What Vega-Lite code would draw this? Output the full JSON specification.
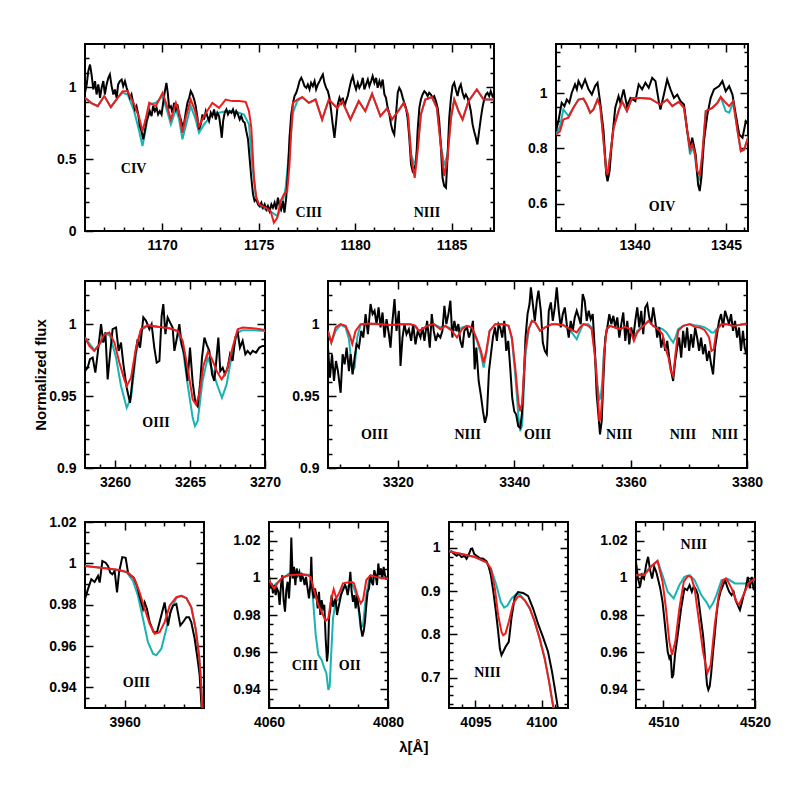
{
"padding": {"left": 32, "top": 42, "right": 5, "bottom": 5},
"background": "white",
"title": {"text": "λ[Å]", "orient": "bottom", "anchor": "middle", "offset": 10, "dx": 12, "font": "Liberation Sans", "fontSize": 15, "fontWeight": "bold", "color": "black"},
"config": {
 "view": {"stroke": "black", "strokeWidth": 2},
 "axis": {"domain": false, "grid": false, "tickColor": "black", "tickWidth": 1.5, "labelFont": "Liberation Sans", "labelFontWeight": "bold", "labelFontSize": 14, "labelColor": "black", "labelFlush": false, "titleFont": "Liberation Sans", "titleFontWeight": "bold", "titleFontSize": 15, "titleColor": "black", "zindex": 1}
},
"datasets": {
"Ab": [{"x":1166,"y":0.961},{"x":1166.09,"y":1.019},{"x":1166.17,"y":1.111},{"x":1166.26,"y":1.157},{"x":1166.34,"y":1.088},{"x":1166.43,"y":0.984},{"x":1166.52,"y":1.042},{"x":1166.6,"y":0.949},{"x":1166.69,"y":1.019},{"x":1166.78,"y":0.926},{"x":1166.86,"y":0.995},{"x":1166.95,"y":1.042},{"x":1167.03,"y":0.949},{"x":1167.12,"y":1.019},{"x":1167.21,"y":1.065},{"x":1167.29,"y":1.088},{"x":1167.38,"y":1.007},{"x":1167.47,"y":0.949},{"x":1167.55,"y":0.984},{"x":1167.64,"y":0.926},{"x":1167.72,"y":1.019},{"x":1167.81,"y":1.042},{"x":1167.9,"y":1.053},{"x":1167.98,"y":1.007},{"x":1168.07,"y":1.042},{"x":1168.16,"y":0.995},{"x":1168.24,"y":0.961},{"x":1168.33,"y":0.926},{"x":1168.41,"y":0.949},{"x":1168.5,"y":0.891},{"x":1168.59,"y":0.845},{"x":1168.67,"y":0.868},{"x":1168.76,"y":0.81},{"x":1168.84,"y":0.729},{"x":1168.93,"y":0.694},{"x":1169.02,"y":0.637},{"x":1169.1,"y":0.694},{"x":1169.19,"y":0.764},{"x":1169.28,"y":0.799},{"x":1169.36,"y":0.833},{"x":1169.45,"y":0.799},{"x":1169.53,"y":0.868},{"x":1169.62,"y":0.833},{"x":1169.71,"y":0.856},{"x":1169.79,"y":0.81},{"x":1169.88,"y":0.833},{"x":1169.97,"y":0.81},{"x":1170.05,"y":0.891},{"x":1170.14,"y":0.972},{"x":1170.22,"y":1.03},{"x":1170.29,"y":0.961},{"x":1170.36,"y":0.856},{"x":1170.45,"y":0.868},{"x":1170.53,"y":0.822},{"x":1170.62,"y":0.891},{"x":1170.71,"y":0.845},{"x":1170.79,"y":0.88},{"x":1170.88,"y":0.81},{"x":1170.97,"y":0.775},{"x":1171.05,"y":0.729},{"x":1171.14,"y":0.752},{"x":1171.22,"y":0.822},{"x":1171.31,"y":0.891},{"x":1171.4,"y":0.926},{"x":1171.48,"y":0.972},{"x":1171.57,"y":0.949},{"x":1171.66,"y":0.914},{"x":1171.74,"y":0.868},{"x":1171.83,"y":0.787},{"x":1171.91,"y":0.706},{"x":1172,"y":0.741},{"x":1172.09,"y":0.81},{"x":1172.17,"y":0.775},{"x":1172.26,"y":0.833},{"x":1172.34,"y":0.799},{"x":1172.43,"y":0.764},{"x":1172.52,"y":0.822},{"x":1172.6,"y":0.799},{"x":1172.69,"y":0.845},{"x":1172.78,"y":0.775},{"x":1172.86,"y":0.822},{"x":1172.95,"y":0.799},{"x":1173.03,"y":0.718},{"x":1173.09,"y":0.648},{"x":1173.16,"y":0.764},{"x":1173.24,"y":0.822},{"x":1173.33,"y":0.845},{"x":1173.41,"y":0.81},{"x":1173.5,"y":0.833},{"x":1173.59,"y":0.822},{"x":1173.67,"y":0.845},{"x":1173.76,"y":0.799},{"x":1173.84,"y":0.833},{"x":1173.93,"y":0.81},{"x":1174.02,"y":0.775},{"x":1174.1,"y":0.799},{"x":1174.19,"y":0.764},{"x":1174.28,"y":0.752},{"x":1174.36,"y":0.694},{"x":1174.45,"y":0.637},{"x":1174.53,"y":0.509},{"x":1174.62,"y":0.37},{"x":1174.71,"y":0.255},{"x":1174.79,"y":0.208},{"x":1174.88,"y":0.22},{"x":1174.97,"y":0.185},{"x":1175.05,"y":0.174},{"x":1175.14,"y":0.197},{"x":1175.22,"y":0.162},{"x":1175.31,"y":0.185},{"x":1175.4,"y":0.15},{"x":1175.48,"y":0.174},{"x":1175.57,"y":0.139},{"x":1175.66,"y":0.185},{"x":1175.74,"y":0.162},{"x":1175.83,"y":0.197},{"x":1175.91,"y":0.15},{"x":1176,"y":0.231},{"x":1176.09,"y":0.174},{"x":1176.17,"y":0.15},{"x":1176.26,"y":0.208},{"x":1176.34,"y":0.127},{"x":1176.43,"y":0.231},{"x":1176.52,"y":0.417},{"x":1176.6,"y":0.648},{"x":1176.69,"y":0.81},{"x":1176.78,"y":0.891},{"x":1176.86,"y":0.938},{"x":1176.95,"y":0.961},{"x":1177.03,"y":0.995},{"x":1177.12,"y":1.042},{"x":1177.21,"y":1.065},{"x":1177.29,"y":1.042},{"x":1177.38,"y":1.007},{"x":1177.47,"y":0.995},{"x":1177.55,"y":1.019},{"x":1177.64,"y":0.984},{"x":1177.72,"y":1.03},{"x":1177.81,"y":1.007},{"x":1177.9,"y":1.042},{"x":1177.98,"y":0.984},{"x":1178.07,"y":1.019},{"x":1178.16,"y":1.042},{"x":1178.24,"y":1.065},{"x":1178.33,"y":1.088},{"x":1178.41,"y":1.03},{"x":1178.5,"y":0.995},{"x":1178.59,"y":0.972},{"x":1178.67,"y":0.926},{"x":1178.76,"y":0.833},{"x":1178.84,"y":0.741},{"x":1178.93,"y":0.648},{"x":1179.02,"y":0.764},{"x":1179.1,"y":0.88},{"x":1179.19,"y":0.926},{"x":1179.28,"y":0.891},{"x":1179.36,"y":0.926},{"x":1179.45,"y":0.868},{"x":1179.53,"y":0.903},{"x":1179.62,"y":0.938},{"x":1179.71,"y":0.995},{"x":1179.79,"y":1.042},{"x":1179.88,"y":1.076},{"x":1179.97,"y":1.019},{"x":1180.05,"y":0.984},{"x":1180.14,"y":1.03},{"x":1180.22,"y":0.995},{"x":1180.31,"y":1.019},{"x":1180.4,"y":1.065},{"x":1180.48,"y":0.984},{"x":1180.57,"y":1.019},{"x":1180.66,"y":1.053},{"x":1180.74,"y":1.007},{"x":1180.83,"y":1.042},{"x":1180.91,"y":1.076},{"x":1181,"y":1.03},{"x":1181.09,"y":1.065},{"x":1181.17,"y":0.995},{"x":1181.26,"y":1.042},{"x":1181.34,"y":1.007},{"x":1181.43,"y":1.053},{"x":1181.52,"y":0.949},{"x":1181.6,"y":0.926},{"x":1181.69,"y":0.856},{"x":1181.78,"y":0.81},{"x":1181.86,"y":0.741},{"x":1181.95,"y":0.694},{"x":1182.03,"y":0.671},{"x":1182.12,"y":0.81},{"x":1182.21,"y":0.961},{"x":1182.29,"y":0.995},{"x":1182.38,"y":0.972},{"x":1182.47,"y":0.926},{"x":1182.55,"y":0.891},{"x":1182.64,"y":0.856},{"x":1182.72,"y":0.787},{"x":1182.81,"y":0.648},{"x":1182.9,"y":0.463},{"x":1182.98,"y":0.417},{"x":1183.07,"y":0.44},{"x":1183.16,"y":0.463},{"x":1183.24,"y":0.694},{"x":1183.33,"y":0.856},{"x":1183.41,"y":0.914},{"x":1183.5,"y":0.949},{"x":1183.59,"y":0.972},{"x":1183.67,"y":0.961},{"x":1183.76,"y":0.938},{"x":1183.84,"y":0.961},{"x":1183.93,"y":0.949},{"x":1184.02,"y":0.926},{"x":1184.1,"y":0.938},{"x":1184.19,"y":0.903},{"x":1184.28,"y":0.856},{"x":1184.36,"y":0.764},{"x":1184.45,"y":0.579},{"x":1184.53,"y":0.37},{"x":1184.62,"y":0.313},{"x":1184.71,"y":0.301},{"x":1184.79,"y":0.509},{"x":1184.88,"y":0.787},{"x":1184.97,"y":0.926},{"x":1185.05,"y":1.007},{"x":1185.14,"y":1.03},{"x":1185.22,"y":0.984},{"x":1185.31,"y":0.938},{"x":1185.4,"y":0.995},{"x":1185.48,"y":1.019},{"x":1185.57,"y":0.961},{"x":1185.66,"y":0.926},{"x":1185.74,"y":0.949},{"x":1185.83,"y":0.926},{"x":1185.91,"y":0.891},{"x":1186,"y":0.833},{"x":1186.09,"y":0.741},{"x":1186.17,"y":0.694},{"x":1186.26,"y":0.648},{"x":1186.34,"y":0.602},{"x":1186.43,"y":0.694},{"x":1186.52,"y":0.787},{"x":1186.6,"y":0.856},{"x":1186.69,"y":0.914},{"x":1186.78,"y":0.949},{"x":1186.86,"y":0.961},{"x":1186.95,"y":0.938},{"x":1187.03,"y":0.972},{"x":1187.12,"y":0.938},{"x":1187.17,"y":0.949}],
"Ar": [{"x":1166,"y":0.926},{"x":1166.31,"y":0.891},{"x":1166.66,"y":0.868},{"x":1167,"y":0.938},{"x":1167.34,"y":0.861},{"x":1167.69,"y":0.926},{"x":1167.95,"y":0.972},{"x":1168.21,"y":0.972},{"x":1168.55,"y":0.88},{"x":1168.81,"y":0.787},{"x":1168.98,"y":0.694},{"x":1169.16,"y":0.787},{"x":1169.33,"y":0.891},{"x":1169.67,"y":0.868},{"x":1170.02,"y":0.961},{"x":1170.28,"y":0.856},{"x":1170.45,"y":0.775},{"x":1170.71,"y":0.891},{"x":1170.88,"y":0.822},{"x":1171.05,"y":0.683},{"x":1171.22,"y":0.787},{"x":1171.48,"y":0.914},{"x":1171.71,"y":0.833},{"x":1171.91,"y":0.729},{"x":1172.17,"y":0.799},{"x":1172.6,"y":0.891},{"x":1172.95,"y":0.856},{"x":1173.29,"y":0.914},{"x":1173.64,"y":0.903},{"x":1173.98,"y":0.903},{"x":1174.33,"y":0.898},{"x":1174.5,"y":0.833},{"x":1174.62,"y":0.718},{"x":1174.76,"y":0.37},{"x":1174.88,"y":0.231},{"x":1175.02,"y":0.185},{"x":1175.36,"y":0.162},{"x":1175.62,"y":0.139},{"x":1175.79,"y":0.058},{"x":1175.97,"y":0.093},{"x":1176.14,"y":0.208},{"x":1176.31,"y":0.255},{"x":1176.48,"y":0.278},{"x":1176.6,"y":0.463},{"x":1176.69,"y":0.694},{"x":1176.78,"y":0.891},{"x":1177,"y":0.914},{"x":1177.26,"y":0.931},{"x":1177.6,"y":0.891},{"x":1177.95,"y":0.914},{"x":1178.29,"y":0.775},{"x":1178.64,"y":0.914},{"x":1179.07,"y":0.856},{"x":1179.33,"y":0.903},{"x":1179.76,"y":0.775},{"x":1180.19,"y":0.903},{"x":1180.53,"y":0.833},{"x":1180.88,"y":0.954},{"x":1181.31,"y":0.799},{"x":1181.66,"y":0.852},{"x":1181.91,"y":0.775},{"x":1182.26,"y":0.838},{"x":1182.52,"y":0.891},{"x":1182.74,"y":0.81},{"x":1182.91,"y":0.509},{"x":1183.09,"y":0.37},{"x":1183.26,"y":0.579},{"x":1183.41,"y":0.81},{"x":1183.64,"y":0.914},{"x":1183.98,"y":0.931},{"x":1184.24,"y":0.856},{"x":1184.45,"y":0.579},{"x":1184.62,"y":0.382},{"x":1184.79,"y":0.509},{"x":1184.97,"y":0.787},{"x":1185.14,"y":0.914},{"x":1185.36,"y":0.833},{"x":1185.57,"y":0.775},{"x":1185.88,"y":0.903},{"x":1186.31,"y":0.984},{"x":1186.66,"y":0.914},{"x":1187.17,"y":0.914}],
"Ac": [{"x":1166,"y":0.926},{"x":1166.31,"y":0.891},{"x":1166.66,"y":0.868},{"x":1167,"y":0.938},{"x":1167.34,"y":0.861},{"x":1167.69,"y":0.926},{"x":1167.95,"y":0.961},{"x":1168.21,"y":0.949},{"x":1168.55,"y":0.833},{"x":1168.81,"y":0.694},{"x":1168.98,"y":0.59},{"x":1169.16,"y":0.718},{"x":1169.36,"y":0.88},{"x":1169.67,"y":0.891},{"x":1170.02,"y":0.938},{"x":1170.28,"y":0.822},{"x":1170.45,"y":0.741},{"x":1170.71,"y":0.845},{"x":1170.88,"y":0.775},{"x":1171.05,"y":0.637},{"x":1171.22,"y":0.729},{"x":1171.48,"y":0.868},{"x":1171.71,"y":0.787},{"x":1171.91,"y":0.683},{"x":1172.17,"y":0.741},{"x":1172.6,"y":0.81},{"x":1172.95,"y":0.822},{"x":1173.29,"y":0.833},{"x":1173.64,"y":0.833},{"x":1173.98,"y":0.822},{"x":1174.24,"y":0.81},{"x":1174.5,"y":0.741},{"x":1174.67,"y":0.463},{"x":1174.84,"y":0.255},{"x":1175.02,"y":0.174},{"x":1175.36,"y":0.15},{"x":1175.71,"y":0.127},{"x":1175.97,"y":0.104},{"x":1176.19,"y":0.162},{"x":1176.4,"y":0.301},{"x":1176.6,"y":0.579},{"x":1176.78,"y":0.822},{"x":1177,"y":0.903},{"x":1177.26,"y":0.931},{"x":1177.6,"y":0.891},{"x":1177.95,"y":0.914},{"x":1178.29,"y":0.775},{"x":1178.64,"y":0.914},{"x":1179.07,"y":0.856},{"x":1179.33,"y":0.903},{"x":1179.76,"y":0.775},{"x":1180.19,"y":0.903},{"x":1180.53,"y":0.833},{"x":1180.88,"y":0.954},{"x":1181.31,"y":0.799},{"x":1181.66,"y":0.852},{"x":1181.91,"y":0.775},{"x":1182.26,"y":0.838},{"x":1182.52,"y":0.891},{"x":1182.74,"y":0.81},{"x":1182.91,"y":0.532},{"x":1183.09,"y":0.451},{"x":1183.26,"y":0.602},{"x":1183.41,"y":0.81},{"x":1183.64,"y":0.914},{"x":1183.98,"y":0.931},{"x":1184.24,"y":0.856},{"x":1184.45,"y":0.602},{"x":1184.62,"y":0.451},{"x":1184.79,"y":0.532},{"x":1184.97,"y":0.787},{"x":1185.14,"y":0.914},{"x":1185.36,"y":0.833},{"x":1185.57,"y":0.775},{"x":1185.88,"y":0.903},{"x":1186.31,"y":0.984},{"x":1186.66,"y":0.914},{"x":1187.17,"y":0.914}],
"Bb": [{"x":1335.7,"y":0.863},{"x":1335.83,"y":0.899},{"x":1336.01,"y":0.966},{"x":1336.16,"y":0.954},{"x":1336.29,"y":0.978},{"x":1336.43,"y":0.966},{"x":1336.56,"y":1.002},{"x":1336.74,"y":1.033},{"x":1336.84,"y":1.015},{"x":1336.93,"y":1.045},{"x":1337.11,"y":1.021},{"x":1337.29,"y":1.051},{"x":1337.48,"y":1.015},{"x":1337.66,"y":0.996},{"x":1337.84,"y":1.027},{"x":1337.97,"y":1.039},{"x":1338.12,"y":0.966},{"x":1338.3,"y":0.863},{"x":1338.45,"y":0.705},{"x":1338.52,"y":0.681},{"x":1338.63,"y":0.718},{"x":1338.76,"y":0.827},{"x":1338.94,"y":0.948},{"x":1339.12,"y":0.99},{"x":1339.22,"y":0.966},{"x":1339.4,"y":1.015},{"x":1339.58,"y":0.954},{"x":1339.77,"y":0.984},{"x":1340.04,"y":0.972},{"x":1340.22,"y":1.033},{"x":1340.41,"y":1.015},{"x":1340.59,"y":1.039},{"x":1340.77,"y":1.021},{"x":1340.96,"y":1.057},{"x":1341.14,"y":1.045},{"x":1341.32,"y":0.972},{"x":1341.41,"y":0.942},{"x":1341.6,"y":0.996},{"x":1341.78,"y":1.051},{"x":1341.96,"y":1.015},{"x":1342.15,"y":0.984},{"x":1342.33,"y":0.996},{"x":1342.51,"y":0.972},{"x":1342.7,"y":0.96},{"x":1342.88,"y":0.863},{"x":1343.03,"y":0.802},{"x":1343.15,"y":0.839},{"x":1343.34,"y":0.778},{"x":1343.47,"y":0.669},{"x":1343.56,"y":0.645},{"x":1343.65,"y":0.693},{"x":1343.79,"y":0.827},{"x":1343.98,"y":0.924},{"x":1344.16,"y":0.984},{"x":1344.34,"y":1.015},{"x":1344.62,"y":1.027},{"x":1344.8,"y":1.045},{"x":1344.98,"y":1.008},{"x":1345.17,"y":1.027},{"x":1345.35,"y":0.996},{"x":1345.53,"y":0.924},{"x":1345.72,"y":0.851},{"x":1345.9,"y":0.839},{"x":1346.08,"y":0.899},{"x":1346.23,"y":0.887}],
"Br": [{"x":1335.7,"y":0.851},{"x":1335.92,"y":0.863},{"x":1336.1,"y":0.905},{"x":1336.38,"y":0.912},{"x":1336.65,"y":0.948},{"x":1336.93,"y":0.978},{"x":1337.2,"y":0.981},{"x":1337.38,"y":0.96},{"x":1337.57,"y":0.93},{"x":1337.75,"y":0.942},{"x":1337.97,"y":0.978},{"x":1338.12,"y":0.954},{"x":1338.3,"y":0.827},{"x":1338.45,"y":0.718},{"x":1338.52,"y":0.705},{"x":1338.67,"y":0.778},{"x":1338.85,"y":0.875},{"x":1339.12,"y":0.936},{"x":1339.31,"y":0.972},{"x":1339.58,"y":0.936},{"x":1339.86,"y":0.984},{"x":1340.32,"y":0.984},{"x":1340.86,"y":0.981},{"x":1341.14,"y":0.97},{"x":1341.41,"y":0.96},{"x":1341.78,"y":0.978},{"x":1342.06,"y":0.954},{"x":1342.42,"y":0.97},{"x":1342.7,"y":0.948},{"x":1342.88,"y":0.863},{"x":1343.03,"y":0.796},{"x":1343.15,"y":0.815},{"x":1343.28,"y":0.79},{"x":1343.43,"y":0.718},{"x":1343.56,"y":0.705},{"x":1343.7,"y":0.778},{"x":1343.89,"y":0.936},{"x":1344.25,"y":0.948},{"x":1344.53,"y":0.966},{"x":1344.71,"y":0.987},{"x":1344.98,"y":0.966},{"x":1345.17,"y":0.954},{"x":1345.39,"y":0.972},{"x":1345.63,"y":0.863},{"x":1345.81,"y":0.79},{"x":1345.99,"y":0.796},{"x":1346.23,"y":0.845}],
"Bc": [{"x":1335.7,"y":0.851},{"x":1335.92,"y":0.88},{"x":1336.1,"y":0.942},{"x":1336.38,"y":0.918},{"x":1336.65,"y":0.948},{"x":1336.93,"y":0.978},{"x":1337.2,"y":0.981},{"x":1337.38,"y":0.96},{"x":1337.57,"y":0.93},{"x":1337.75,"y":0.942},{"x":1337.97,"y":0.978},{"x":1338.12,"y":0.954},{"x":1338.3,"y":0.827},{"x":1338.45,"y":0.712},{"x":1338.52,"y":0.7},{"x":1338.67,"y":0.778},{"x":1338.85,"y":0.875},{"x":1339.12,"y":0.936},{"x":1339.31,"y":0.972},{"x":1339.58,"y":0.936},{"x":1339.86,"y":0.984},{"x":1340.32,"y":0.984},{"x":1340.86,"y":0.981},{"x":1341.14,"y":0.97},{"x":1341.41,"y":0.96},{"x":1341.78,"y":0.978},{"x":1342.06,"y":0.954},{"x":1342.42,"y":0.97},{"x":1342.7,"y":0.948},{"x":1342.88,"y":0.86},{"x":1343.03,"y":0.778},{"x":1343.15,"y":0.805},{"x":1343.28,"y":0.78},{"x":1343.43,"y":0.7},{"x":1343.56,"y":0.687},{"x":1343.7,"y":0.77},{"x":1343.89,"y":0.936},{"x":1344.25,"y":0.948},{"x":1344.53,"y":0.966},{"x":1344.71,"y":0.987},{"x":1344.98,"y":0.936},{"x":1345.17,"y":0.93},{"x":1345.39,"y":0.966},{"x":1345.63,"y":0.863},{"x":1345.81,"y":0.79},{"x":1345.99,"y":0.796},{"x":1346.23,"y":0.845}],
"Cb": [{"x":3258,"y":0.9674},{"x":3258.18,"y":0.9698},{"x":3258.33,"y":0.9756},{"x":3258.51,"y":0.9767},{"x":3258.69,"y":0.9663},{"x":3258.84,"y":0.9791},{"x":3259.07,"y":1.0},{"x":3259.22,"y":0.9872},{"x":3259.36,"y":0.9942},{"x":3259.51,"y":0.9616},{"x":3259.67,"y":0.9791},{"x":3259.84,"y":0.9965},{"x":3260.07,"y":0.9977},{"x":3260.24,"y":0.9814},{"x":3260.4,"y":0.9872},{"x":3260.56,"y":0.9721},{"x":3260.78,"y":0.9558},{"x":3261,"y":0.9453},{"x":3261.18,"y":0.9628},{"x":3261.36,"y":0.9791},{"x":3261.51,"y":0.9895},{"x":3261.67,"y":0.9837},{"x":3261.89,"y":1.0047},{"x":3262.07,"y":1.0023},{"x":3262.29,"y":0.9965},{"x":3262.44,"y":1.0},{"x":3262.62,"y":0.9837},{"x":3262.78,"y":0.9733},{"x":3262.96,"y":0.9744},{"x":3263.11,"y":1.0058},{"x":3263.22,"y":1.014},{"x":3263.36,"y":0.993},{"x":3263.51,"y":1.0047},{"x":3263.67,"y":1.0012},{"x":3263.84,"y":0.9977},{"x":3263.96,"y":0.9814},{"x":3264.11,"y":0.9895},{"x":3264.29,"y":1.0},{"x":3264.44,"y":0.986},{"x":3264.62,"y":0.9791},{"x":3264.84,"y":0.9605},{"x":3265,"y":0.9837},{"x":3265.18,"y":0.9593},{"x":3265.36,"y":0.9453},{"x":3265.51,"y":0.943},{"x":3265.67,"y":0.9581},{"x":3265.8,"y":0.9767},{"x":3265.96,"y":0.9907},{"x":3266.11,"y":0.986},{"x":3266.29,"y":0.9814},{"x":3266.47,"y":0.9651},{"x":3266.62,"y":0.9605},{"x":3266.73,"y":0.9721},{"x":3266.89,"y":0.9907},{"x":3267.02,"y":0.9674},{"x":3267.18,"y":0.9698},{"x":3267.33,"y":0.9651},{"x":3267.51,"y":0.9698},{"x":3267.67,"y":0.9791},{"x":3267.84,"y":0.9744},{"x":3268.02,"y":0.9907},{"x":3268.18,"y":0.9942},{"x":3268.33,"y":0.9837},{"x":3268.51,"y":0.9884},{"x":3268.69,"y":0.9791},{"x":3268.84,"y":0.9814},{"x":3269.02,"y":0.9791},{"x":3269.18,"y":0.9814},{"x":3269.4,"y":0.9802},{"x":3269.62,"y":0.9837},{"x":3269.84,"y":0.9849},{"x":3270,"y":0.9849}],
"Cr": [{"x":3258,"y":0.9907},{"x":3258.29,"y":0.9849},{"x":3258.62,"y":0.9814},{"x":3258.96,"y":0.986},{"x":3259.29,"y":0.993},{"x":3259.62,"y":0.9942},{"x":3259.96,"y":0.9872},{"x":3260.29,"y":0.9733},{"x":3260.62,"y":0.9616},{"x":3260.78,"y":0.957},{"x":3261.07,"y":0.9628},{"x":3261.4,"y":0.9837},{"x":3261.73,"y":0.9965},{"x":3262.18,"y":0.9993},{"x":3262.96,"y":0.9981},{"x":3263.62,"y":0.9972},{"x":3264.18,"y":0.9953},{"x":3264.51,"y":0.9884},{"x":3264.84,"y":0.9698},{"x":3265.18,"y":0.9477},{"x":3265.4,"y":0.9442},{"x":3265.62,"y":0.9512},{"x":3265.89,"y":0.9709},{"x":3266.2,"y":0.9809},{"x":3266.47,"y":0.9756},{"x":3266.78,"y":0.9674},{"x":3267.11,"y":0.9616},{"x":3267.44,"y":0.9674},{"x":3267.84,"y":0.9837},{"x":3268.18,"y":0.9965},{"x":3268.51,"y":0.9977},{"x":3269.18,"y":0.9972},{"x":3270,"y":0.996}],
"Cc": [{"x":3258,"y":0.9907},{"x":3258.62,"y":0.9819},{"x":3259.07,"y":0.9872},{"x":3259.36,"y":0.9937},{"x":3259.67,"y":0.9919},{"x":3260.07,"y":0.9767},{"x":3260.4,"y":0.957},{"x":3260.78,"y":0.9419},{"x":3261.07,"y":0.9488},{"x":3261.4,"y":0.9791},{"x":3261.73,"y":0.9958},{"x":3262.18,"y":0.9988},{"x":3262.96,"y":0.9981},{"x":3263.62,"y":0.9972},{"x":3264.18,"y":0.9949},{"x":3264.51,"y":0.9837},{"x":3264.84,"y":0.9581},{"x":3265.18,"y":0.9349},{"x":3265.33,"y":0.9291},{"x":3265.51,"y":0.9326},{"x":3265.84,"y":0.9605},{"x":3266.18,"y":0.9767},{"x":3266.44,"y":0.9698},{"x":3266.84,"y":0.957},{"x":3267.13,"y":0.9488},{"x":3267.44,"y":0.9581},{"x":3267.84,"y":0.9814},{"x":3268.18,"y":0.9942},{"x":3268.51,"y":0.9958},{"x":3269.18,"y":0.9958},{"x":3270,"y":0.9953}],
"Db": [{"x":3308,"y":0.9837},{"x":3308.34,"y":0.9628},{"x":3308.69,"y":0.9791},{"x":3309.03,"y":0.9605},{"x":3309.37,"y":0.9744},{"x":3309.71,"y":0.9674},{"x":3310.17,"y":0.9523},{"x":3310.51,"y":0.9791},{"x":3310.86,"y":0.9721},{"x":3311.2,"y":0.9837},{"x":3311.6,"y":0.9674},{"x":3311.89,"y":0.9791},{"x":3312.23,"y":0.9651},{"x":3312.57,"y":0.9767},{"x":3312.91,"y":0.986},{"x":3313.31,"y":0.9837},{"x":3313.71,"y":0.9953},{"x":3314.06,"y":0.9907},{"x":3314.46,"y":1.007},{"x":3314.86,"y":0.993},{"x":3315.31,"y":1.014},{"x":3315.66,"y":1.007},{"x":3316,"y":1.0093},{"x":3316.34,"y":1.0},{"x":3316.69,"y":1.0116},{"x":3317.03,"y":0.9977},{"x":3317.37,"y":1.0081},{"x":3317.71,"y":0.9907},{"x":3318.06,"y":1.0035},{"x":3318.46,"y":0.993},{"x":3318.74,"y":0.9837},{"x":3319.03,"y":1.0},{"x":3319.43,"y":1.0174},{"x":3319.77,"y":0.9953},{"x":3320.17,"y":1.0093},{"x":3320.46,"y":0.9709},{"x":3320.8,"y":0.9907},{"x":3321.14,"y":1.0},{"x":3321.49,"y":0.993},{"x":3321.89,"y":0.9965},{"x":3322.29,"y":0.9884},{"x":3322.63,"y":1.0},{"x":3323.03,"y":0.986},{"x":3323.43,"y":0.9953},{"x":3323.89,"y":0.9907},{"x":3324.23,"y":0.9977},{"x":3324.57,"y":0.9884},{"x":3325.03,"y":1.0023},{"x":3325.49,"y":0.9837},{"x":3325.83,"y":1.007},{"x":3326.17,"y":0.9953},{"x":3326.51,"y":0.9884},{"x":3326.86,"y":0.993},{"x":3327.31,"y":0.9907},{"x":3327.66,"y":0.9953},{"x":3328,"y":1.0128},{"x":3328.34,"y":1.0},{"x":3328.69,"y":1.007},{"x":3329.03,"y":1.0163},{"x":3329.37,"y":0.9907},{"x":3329.71,"y":1.0023},{"x":3330.06,"y":0.9953},{"x":3330.4,"y":1.0},{"x":3330.74,"y":0.9884},{"x":3331.09,"y":0.9837},{"x":3331.43,"y":0.9953},{"x":3331.89,"y":0.9977},{"x":3332.23,"y":0.9907},{"x":3332.57,"y":0.9953},{"x":3332.91,"y":1.0023},{"x":3333.2,"y":0.9686},{"x":3333.49,"y":0.9837},{"x":3333.89,"y":0.9605},{"x":3334.29,"y":0.95},{"x":3334.63,"y":0.9395},{"x":3334.97,"y":0.9314},{"x":3335.31,"y":0.9372},{"x":3335.66,"y":0.9674},{"x":3336,"y":0.9791},{"x":3336.34,"y":0.9907},{"x":3336.69,"y":0.9977},{"x":3337.03,"y":0.9884},{"x":3337.31,"y":1.0},{"x":3337.6,"y":0.9977},{"x":3337.94,"y":0.9907},{"x":3338.29,"y":1.0023},{"x":3338.63,"y":0.9814},{"x":3338.97,"y":0.9884},{"x":3339.31,"y":0.9698},{"x":3339.66,"y":0.9488},{"x":3340,"y":0.9395},{"x":3340.34,"y":0.9372},{"x":3340.69,"y":0.9291},{"x":3341.03,"y":0.9279},{"x":3341.31,"y":0.9372},{"x":3341.6,"y":0.9581},{"x":3341.94,"y":0.9907},{"x":3342.29,"y":1.007},{"x":3342.63,"y":1.014},{"x":3342.86,"y":1.0256},{"x":3343.2,"y":1.014},{"x":3343.54,"y":1.0023},{"x":3343.89,"y":1.0163},{"x":3344.17,"y":1.0233},{"x":3344.57,"y":1.0093},{"x":3344.91,"y":0.9872},{"x":3345.26,"y":0.9814},{"x":3345.6,"y":0.9791},{"x":3345.94,"y":1.0093},{"x":3346.29,"y":1.0151},{"x":3346.63,"y":1.0023},{"x":3346.97,"y":1.0116},{"x":3347.31,"y":1.0256},{"x":3347.66,"y":1.0093},{"x":3348,"y":0.9977},{"x":3348.34,"y":1.007},{"x":3348.69,"y":1.0116},{"x":3349.03,"y":1.0},{"x":3349.37,"y":0.9907},{"x":3349.71,"y":1.0023},{"x":3350.06,"y":0.9953},{"x":3350.4,"y":1.0047},{"x":3350.74,"y":1.0093},{"x":3351.09,"y":1.0047},{"x":3351.43,"y":1.0},{"x":3351.77,"y":1.0209},{"x":3352.11,"y":1.0163},{"x":3352.46,"y":1.0023},{"x":3352.8,"y":1.0093},{"x":3353.14,"y":1.0035},{"x":3353.49,"y":1.007},{"x":3353.83,"y":0.9837},{"x":3354.17,"y":0.9512},{"x":3354.46,"y":0.9372},{"x":3354.74,"y":0.9233},{"x":3355.03,"y":0.9326},{"x":3355.31,"y":0.9605},{"x":3355.66,"y":0.9907},{"x":3356,"y":0.9977},{"x":3356.34,"y":1.007},{"x":3356.69,"y":1.0},{"x":3357.03,"y":1.0058},{"x":3357.37,"y":0.9977},{"x":3357.71,"y":1.0047},{"x":3358.06,"y":0.9907},{"x":3358.4,"y":1.0},{"x":3358.74,"y":1.0081},{"x":3359.09,"y":0.9884},{"x":3359.43,"y":1.0023},{"x":3359.77,"y":0.986},{"x":3360.11,"y":0.9977},{"x":3360.46,"y":0.9907},{"x":3360.8,"y":1.0023},{"x":3361.14,"y":1.0116},{"x":3361.49,"y":0.9977},{"x":3361.83,"y":1.0093},{"x":3362.17,"y":0.993},{"x":3362.51,"y":1.0116},{"x":3362.86,"y":1.014},{"x":3363.2,"y":1.0047},{"x":3363.54,"y":1.0},{"x":3363.89,"y":1.0116},{"x":3364.23,"y":1.0023},{"x":3364.57,"y":0.9907},{"x":3364.91,"y":0.9977},{"x":3365.26,"y":0.9837},{"x":3365.6,"y":0.9907},{"x":3365.94,"y":0.9814},{"x":3366.29,"y":0.9884},{"x":3366.63,"y":0.9767},{"x":3366.97,"y":0.9674},{"x":3367.31,"y":0.9605},{"x":3367.66,"y":0.9744},{"x":3368,"y":0.9837},{"x":3368.34,"y":0.9907},{"x":3368.69,"y":0.9767},{"x":3369.03,"y":0.9953},{"x":3369.37,"y":0.9837},{"x":3369.71,"y":0.9977},{"x":3370.06,"y":0.9814},{"x":3370.4,"y":0.993},{"x":3370.74,"y":0.9837},{"x":3371.09,"y":0.9977},{"x":3371.43,"y":0.9907},{"x":3371.77,"y":0.9814},{"x":3372.11,"y":0.9907},{"x":3372.46,"y":0.9791},{"x":3372.8,"y":0.986},{"x":3373.14,"y":0.9744},{"x":3373.49,"y":0.9814},{"x":3373.83,"y":0.9721},{"x":3374.17,"y":0.9651},{"x":3374.51,"y":0.9837},{"x":3374.86,"y":0.993},{"x":3375.2,"y":1.0023},{"x":3375.54,"y":1.007},{"x":3375.89,"y":0.9977},{"x":3376.23,"y":1.0093},{"x":3376.57,"y":1.0047},{"x":3376.91,"y":1.0},{"x":3377.26,"y":1.007},{"x":3377.6,"y":0.9953},{"x":3377.94,"y":1.0023},{"x":3378.29,"y":0.9907},{"x":3378.63,"y":0.9977},{"x":3378.97,"y":0.9814},{"x":3379.31,"y":0.9953},{"x":3379.6,"y":0.9837},{"x":3379.89,"y":0.9791}],
"Dr": [{"x":3308,"y":0.9953},{"x":3308.57,"y":0.9872},{"x":3309.31,"y":0.9977},{"x":3310.17,"y":1.0},{"x":3311.03,"y":0.9988},{"x":3311.77,"y":0.9919},{"x":3312.17,"y":0.9863},{"x":3312.74,"y":0.9953},{"x":3313.6,"y":1.0},{"x":3315.31,"y":1.0005},{"x":3317.03,"y":1.0},{"x":3318.74,"y":0.9995},{"x":3320.46,"y":1.0},{"x":3322.17,"y":1.0},{"x":3323.03,"y":0.9988},{"x":3323.6,"y":0.9953},{"x":3324.17,"y":0.9965},{"x":3325.03,"y":0.9988},{"x":3326.17,"y":1.0},{"x":3327.31,"y":0.9965},{"x":3328.17,"y":0.9988},{"x":3329.31,"y":0.9953},{"x":3330.17,"y":0.9907},{"x":3331.03,"y":0.9965},{"x":3331.89,"y":0.9988},{"x":3332.74,"y":0.9977},{"x":3333.6,"y":0.9895},{"x":3334.29,"y":0.9814},{"x":3334.74,"y":0.9733},{"x":3335.2,"y":0.9814},{"x":3335.77,"y":0.9953},{"x":3336.74,"y":1.0},{"x":3338.17,"y":1.0},{"x":3339.03,"y":0.9988},{"x":3339.6,"y":0.9907},{"x":3340.17,"y":0.9698},{"x":3340.74,"y":0.9453},{"x":3341.03,"y":0.9395},{"x":3341.37,"y":0.9453},{"x":3341.89,"y":0.9814},{"x":3342.46,"y":0.9965},{"x":3343.03,"y":1.0023},{"x":3343.6,"y":1.0012},{"x":3344.46,"y":0.9953},{"x":3345.31,"y":0.9977},{"x":3346.46,"y":1.0},{"x":3347.31,"y":1.0},{"x":3348.46,"y":0.9993},{"x":3349.6,"y":0.9965},{"x":3350.74,"y":0.9942},{"x":3351.31,"y":0.9977},{"x":3351.89,"y":1.0},{"x":3352.74,"y":0.9988},{"x":3353.31,"y":0.9965},{"x":3353.89,"y":0.9767},{"x":3354.29,"y":0.9558},{"x":3354.63,"y":0.9326},{"x":3354.86,"y":0.9349},{"x":3355.14,"y":0.9512},{"x":3355.43,"y":0.9791},{"x":3355.89,"y":0.9965},{"x":3356.46,"y":0.9988},{"x":3357.31,"y":0.9977},{"x":3358.17,"y":0.9965},{"x":3359.03,"y":0.9981},{"x":3359.89,"y":0.9965},{"x":3360.57,"y":0.9884},{"x":3361.14,"y":0.9942},{"x":3361.89,"y":0.9977},{"x":3362.51,"y":1.0},{"x":3363.09,"y":1.0023},{"x":3363.89,"y":0.9988},{"x":3364.74,"y":0.9965},{"x":3365.49,"y":0.993},{"x":3365.94,"y":0.9837},{"x":3366.51,"y":0.9767},{"x":3366.91,"y":0.9674},{"x":3367.31,"y":0.964},{"x":3367.71,"y":0.9791},{"x":3368.17,"y":0.9953},{"x":3369.03,"y":0.9988},{"x":3370.17,"y":1.0},{"x":3371.03,"y":0.9981},{"x":3371.89,"y":0.9977},{"x":3372.74,"y":0.9958},{"x":3373.49,"y":0.9907},{"x":3373.89,"y":0.9814},{"x":3374.29,"y":0.9826},{"x":3374.74,"y":0.9953},{"x":3375.6,"y":1.0},{"x":3376.46,"y":1.0},{"x":3377.6,"y":0.9988},{"x":3378.74,"y":0.9995},{"x":3379.89,"y":1.0005}],
"Dc": [{"x":3308,"y":0.9953},{"x":3308.57,"y":0.9872},{"x":3309.31,"y":0.9953},{"x":3310.17,"y":0.9995},{"x":3311.03,"y":0.9977},{"x":3311.6,"y":0.9895},{"x":3312.17,"y":0.9674},{"x":3312.57,"y":0.9698},{"x":3313.03,"y":0.9907},{"x":3313.6,"y":0.9995},{"x":3315.31,"y":1.0},{"x":3317.03,"y":1.0},{"x":3318.74,"y":0.9995},{"x":3320.46,"y":1.0},{"x":3322.17,"y":1.0},{"x":3323.03,"y":0.9981},{"x":3323.6,"y":0.9953},{"x":3324.17,"y":0.9958},{"x":3325.03,"y":0.9988},{"x":3326.17,"y":1.0},{"x":3327.31,"y":0.9977},{"x":3328.17,"y":0.9988},{"x":3329.31,"y":0.9965},{"x":3330.17,"y":0.9953},{"x":3331.03,"y":0.9977},{"x":3331.89,"y":0.9988},{"x":3332.74,"y":0.9977},{"x":3333.6,"y":0.9884},{"x":3334.29,"y":0.9791},{"x":3334.74,"y":0.9698},{"x":3335.2,"y":0.9791},{"x":3335.77,"y":0.9953},{"x":3336.74,"y":1.0},{"x":3338.17,"y":1.0},{"x":3339.03,"y":0.9988},{"x":3339.6,"y":0.9895},{"x":3340.17,"y":0.9651},{"x":3340.74,"y":0.9349},{"x":3341.03,"y":0.9256},{"x":3341.37,"y":0.9302},{"x":3341.89,"y":0.9767},{"x":3342.46,"y":0.9958},{"x":3343.03,"y":1.0023},{"x":3343.6,"y":1.0012},{"x":3344.46,"y":0.9953},{"x":3345.31,"y":0.9977},{"x":3346.46,"y":1.0},{"x":3347.31,"y":1.0},{"x":3348.46,"y":0.9993},{"x":3349.6,"y":0.9958},{"x":3350.74,"y":0.9895},{"x":3351.31,"y":0.9953},{"x":3351.89,"y":1.0},{"x":3352.74,"y":1.0},{"x":3353.31,"y":0.9977},{"x":3353.89,"y":0.9791},{"x":3354.29,"y":0.9581},{"x":3354.63,"y":0.9477},{"x":3354.86,"y":0.9488},{"x":3355.14,"y":0.9605},{"x":3355.43,"y":0.9814},{"x":3355.89,"y":0.9965},{"x":3356.46,"y":0.9988},{"x":3357.31,"y":0.9977},{"x":3358.17,"y":0.9965},{"x":3359.03,"y":0.9981},{"x":3359.89,"y":0.9965},{"x":3360.57,"y":0.9907},{"x":3361.14,"y":0.9953},{"x":3361.89,"y":0.9977},{"x":3362.51,"y":1.0},{"x":3363.09,"y":1.0023},{"x":3363.89,"y":0.9988},{"x":3364.74,"y":0.9977},{"x":3365.49,"y":0.9965},{"x":3366.17,"y":0.9942},{"x":3366.91,"y":0.9895},{"x":3367.31,"y":0.9872},{"x":3367.71,"y":0.9907},{"x":3368.17,"y":0.9965},{"x":3369.03,"y":0.9988},{"x":3370.17,"y":1.0},{"x":3371.03,"y":0.9993},{"x":3371.89,"y":0.9988},{"x":3372.74,"y":0.9977},{"x":3373.49,"y":0.9958},{"x":3373.89,"y":0.9942},{"x":3374.29,"y":0.9942},{"x":3374.74,"y":0.9965},{"x":3375.6,"y":1.0},{"x":3376.46,"y":1.0},{"x":3377.6,"y":0.9988},{"x":3378.74,"y":0.9995},{"x":3379.89,"y":1.0}],
"Eb": [{"x":3956,"y":0.9827},{"x":3956.3,"y":0.9875},{"x":3956.64,"y":0.9923},{"x":3956.97,"y":0.991},{"x":3957.31,"y":0.9939},{"x":3957.48,"y":0.9907},{"x":3957.75,"y":1.0011},{"x":3958.08,"y":1.0003},{"x":3958.32,"y":0.9987},{"x":3958.55,"y":0.9955},{"x":3958.76,"y":0.9947},{"x":3958.99,"y":0.9963},{"x":3959.23,"y":0.9859},{"x":3959.43,"y":0.9955},{"x":3959.76,"y":1.003},{"x":3960.1,"y":1.0027},{"x":3960.34,"y":0.9955},{"x":3960.67,"y":0.9939},{"x":3960.91,"y":0.9931},{"x":3961.24,"y":0.9891},{"x":3961.58,"y":0.9827},{"x":3961.85,"y":0.9779},{"x":3962.02,"y":0.9811},{"x":3962.25,"y":0.9779},{"x":3962.52,"y":0.9715},{"x":3962.92,"y":0.9667},{"x":3963.26,"y":0.9667},{"x":3963.6,"y":0.9731},{"x":3964.03,"y":0.9811},{"x":3964.37,"y":0.9699},{"x":3964.61,"y":0.9763},{"x":3964.87,"y":0.9795},{"x":3965.21,"y":0.9803},{"x":3965.61,"y":0.9699},{"x":3965.88,"y":0.9715},{"x":3966.22,"y":0.9739},{"x":3966.49,"y":0.9739},{"x":3966.72,"y":0.9715},{"x":3967.06,"y":0.9635},{"x":3967.39,"y":0.9523},{"x":3967.56,"y":0.9459},{"x":3967.76,"y":0.9299},{"x":3967.9,"y":0.915}],
"Er": [{"x":3956,"y":0.9987},{"x":3957.14,"y":0.9981},{"x":3958.49,"y":0.9974},{"x":3959.5,"y":0.9968},{"x":3960.34,"y":0.9955},{"x":3961.01,"y":0.9923},{"x":3961.51,"y":0.9859},{"x":3962.02,"y":0.9779},{"x":3962.52,"y":0.9707},{"x":3963.03,"y":0.9659},{"x":3963.53,"y":0.9667},{"x":3964.03,"y":0.9715},{"x":3964.54,"y":0.9795},{"x":3965.21,"y":0.9837},{"x":3965.71,"y":0.9843},{"x":3966.22,"y":0.9832},{"x":3966.72,"y":0.9787},{"x":3967.16,"y":0.9683},{"x":3967.5,"y":0.9555},{"x":3967.7,"y":0.9427},{"x":3967.83,"y":0.9299},{"x":3968.03,"y":0.91}],
"Ec": [{"x":3956,"y":0.9987},{"x":3958.49,"y":0.9974},{"x":3960.17,"y":0.9958},{"x":3960.84,"y":0.9915},{"x":3961.34,"y":0.9843},{"x":3961.85,"y":0.9731},{"x":3962.35,"y":0.9619},{"x":3962.86,"y":0.9563},{"x":3963.19,"y":0.9555},{"x":3963.7,"y":0.9587},{"x":3964.2,"y":0.9683},{"x":3964.71,"y":0.9779},{"x":3965.21,"y":0.9832},{"x":3965.71,"y":0.9843},{"x":3966.22,"y":0.9832},{"x":3966.72,"y":0.9787},{"x":3967.16,"y":0.9683},{"x":3967.5,"y":0.9555},{"x":3967.7,"y":0.9427},{"x":3967.83,"y":0.9299},{"x":3968.03,"y":0.91}],
"Fb": [{"x":4060,"y":1.0014},{"x":4060.22,"y":0.9943},{"x":4060.45,"y":0.997},{"x":4060.67,"y":0.9916},{"x":4060.9,"y":0.9961},{"x":4061.12,"y":0.9907},{"x":4061.34,"y":0.9943},{"x":4061.57,"y":0.9925},{"x":4061.79,"y":0.9854},{"x":4062.02,"y":0.9961},{"x":4062.24,"y":1.0014},{"x":4062.46,"y":0.988},{"x":4062.69,"y":0.9818},{"x":4062.91,"y":0.9934},{"x":4063.14,"y":0.9979},{"x":4063.36,"y":0.9889},{"x":4063.59,"y":1.0023},{"x":4063.75,"y":1.0216},{"x":4063.98,"y":0.9996},{"x":4064.2,"y":1.0059},{"x":4064.43,"y":0.9961},{"x":4064.65,"y":1.005},{"x":4064.87,"y":1.0014},{"x":4065.1,"y":1.0032},{"x":4065.32,"y":0.9979},{"x":4065.55,"y":1.0014},{"x":4065.77,"y":0.9996},{"x":4065.99,"y":0.9961},{"x":4066.22,"y":1.0005},{"x":4066.44,"y":0.9952},{"x":4066.72,"y":0.9889},{"x":4066.95,"y":0.9961},{"x":4067.11,"y":1.0113},{"x":4067.28,"y":0.9943},{"x":4067.51,"y":0.9889},{"x":4067.73,"y":0.9943},{"x":4067.96,"y":0.9907},{"x":4068.18,"y":0.9836},{"x":4068.4,"y":0.9925},{"x":4068.63,"y":0.98},{"x":4068.85,"y":0.988},{"x":4069.08,"y":0.9836},{"x":4069.3,"y":0.9854},{"x":4069.52,"y":0.9675},{"x":4069.75,"y":0.955},{"x":4069.92,"y":0.9604},{"x":4070.08,"y":0.9782},{"x":4070.31,"y":0.9836},{"x":4070.53,"y":0.9907},{"x":4070.76,"y":0.9845},{"x":4070.98,"y":0.9871},{"x":4071.2,"y":0.9889},{"x":4071.43,"y":0.98},{"x":4071.65,"y":0.9836},{"x":4071.88,"y":0.9871},{"x":4072.1,"y":0.9907},{"x":4072.32,"y":0.9925},{"x":4072.55,"y":0.9943},{"x":4072.77,"y":0.9961},{"x":4073,"y":0.9943},{"x":4073.22,"y":0.9907},{"x":4073.45,"y":0.9952},{"x":4073.67,"y":1.0032},{"x":4073.89,"y":0.9925},{"x":4074.12,"y":0.9871},{"x":4074.34,"y":0.9907},{"x":4074.57,"y":0.9836},{"x":4074.79,"y":0.9907},{"x":4075.01,"y":0.9854},{"x":4075.24,"y":0.98},{"x":4075.46,"y":0.9729},{"x":4075.69,"y":0.9684},{"x":4075.91,"y":0.9711},{"x":4076.13,"y":0.9764},{"x":4076.36,"y":0.9854},{"x":4076.58,"y":0.9925},{"x":4076.81,"y":0.9943},{"x":4077.03,"y":1.0014},{"x":4077.25,"y":0.9979},{"x":4077.48,"y":0.9961},{"x":4077.7,"y":1.0041},{"x":4077.93,"y":1.0014},{"x":4078.15,"y":0.9961},{"x":4078.37,"y":1.0077},{"x":4078.6,"y":1.0014},{"x":4078.82,"y":1.005},{"x":4079.05,"y":0.9996},{"x":4079.27,"y":1.0059},{"x":4079.49,"y":1.0014},{"x":4079.72,"y":0.9996},{"x":4080,"y":1.0005}],
"Fr": [{"x":4060,"y":0.9988},{"x":4060.45,"y":0.9961},{"x":4060.84,"y":0.9943},{"x":4061.4,"y":0.997},{"x":4062.24,"y":1.0002},{"x":4063.36,"y":1.0014},{"x":4065.04,"y":1.0018},{"x":4066.44,"y":1.0014},{"x":4067,"y":1.0005},{"x":4067.56,"y":0.9934},{"x":4068.29,"y":0.9854},{"x":4068.96,"y":0.9809},{"x":4069.52,"y":0.9768},{"x":4069.97,"y":0.9782},{"x":4070.42,"y":0.988},{"x":4070.87,"y":0.9938},{"x":4071.32,"y":0.9889},{"x":4071.76,"y":0.9916},{"x":4072.44,"y":0.997},{"x":4073.17,"y":0.9975},{"x":4073.89,"y":0.9979},{"x":4074.29,"y":0.997},{"x":4074.85,"y":0.9907},{"x":4075.41,"y":0.9863},{"x":4075.8,"y":0.988},{"x":4076.36,"y":0.9988},{"x":4077.09,"y":1.0014},{"x":4077.93,"y":1.0005},{"x":4078.77,"y":1.0},{"x":4080,"y":0.9996}],
"Fc": [{"x":4060,"y":0.9988},{"x":4060.56,"y":0.995},{"x":4061.4,"y":0.9975},{"x":4063.36,"y":1.0023},{"x":4065.04,"y":1.0023},{"x":4067,"y":1.0014},{"x":4067.39,"y":0.9889},{"x":4067.84,"y":0.9696},{"x":4068.29,"y":0.9586},{"x":4068.85,"y":0.9559},{"x":4069.3,"y":0.9514},{"x":4069.64,"y":0.9488},{"x":4069.97,"y":0.9398},{"x":4070.2,"y":0.9416},{"x":4070.42,"y":0.9568},{"x":4070.76,"y":0.9782},{"x":4071.2,"y":0.9871},{"x":4071.88,"y":0.9889},{"x":4072.44,"y":0.9952},{"x":4073.17,"y":0.9952},{"x":4073.89,"y":0.997},{"x":4074.29,"y":0.9943},{"x":4074.85,"y":0.9889},{"x":4075.41,"y":0.9729},{"x":4075.8,"y":0.9746},{"x":4076.25,"y":0.9889},{"x":4076.81,"y":0.9989},{"x":4077.93,"y":1.0005},{"x":4080,"y":0.9996}],
"Gb": [{"x":4093,"y":0.99},{"x":4093.2,"y":0.992},{"x":4093.4,"y":0.986},{"x":4093.58,"y":0.982},{"x":4093.75,"y":0.986},{"x":4093.95,"y":0.979},{"x":4094.16,"y":0.982},{"x":4094.33,"y":0.975},{"x":4094.51,"y":0.986},{"x":4094.66,"y":0.998},{"x":4094.76,"y":0.999},{"x":4094.91,"y":0.986},{"x":4095.09,"y":0.982},{"x":4095.34,"y":0.976},{"x":4095.59,"y":0.975},{"x":4095.84,"y":0.969},{"x":4096.02,"y":0.955},{"x":4096.17,"y":0.936},{"x":4096.34,"y":0.902},{"x":4096.52,"y":0.86},{"x":4096.72,"y":0.806},{"x":4096.85,"y":0.767},{"x":4096.97,"y":0.752},{"x":4097.1,"y":0.76},{"x":4097.27,"y":0.771},{"x":4097.52,"y":0.783},{"x":4097.72,"y":0.837},{"x":4097.97,"y":0.886},{"x":4098.22,"y":0.898},{"x":4098.6,"y":0.896},{"x":4098.98,"y":0.889},{"x":4099.36,"y":0.86},{"x":4099.73,"y":0.825},{"x":4100.11,"y":0.794},{"x":4100.49,"y":0.76},{"x":4100.79,"y":0.714},{"x":4101.04,"y":0.668},{"x":4101.24,"y":0.629},{"x":4101.39,"y":0.599}],
"Gr": [{"x":4093,"y":0.992},{"x":4093.95,"y":0.986},{"x":4094.96,"y":0.979},{"x":4095.84,"y":0.967},{"x":4096.17,"y":0.952},{"x":4096.47,"y":0.906},{"x":4096.72,"y":0.844},{"x":4096.97,"y":0.806},{"x":4097.1,"y":0.798},{"x":4097.27,"y":0.802},{"x":4097.52,"y":0.829},{"x":4097.85,"y":0.871},{"x":4098.22,"y":0.888},{"x":4098.42,"y":0.888},{"x":4098.73,"y":0.879},{"x":4099.11,"y":0.86},{"x":4099.49,"y":0.829},{"x":4099.86,"y":0.79},{"x":4100.24,"y":0.744},{"x":4100.57,"y":0.691},{"x":4100.86,"y":0.637},{"x":4101.04,"y":0.6}],
"Gc": [{"x":4093,"y":0.992},{"x":4093.95,"y":0.986},{"x":4094.96,"y":0.979},{"x":4095.84,"y":0.967},{"x":4096.22,"y":0.948},{"x":4096.59,"y":0.913},{"x":4096.92,"y":0.875},{"x":4097.17,"y":0.862},{"x":4097.42,"y":0.867},{"x":4097.72,"y":0.883},{"x":4098.1,"y":0.894},{"x":4098.35,"y":0.892},{"x":4098.73,"y":0.879},{"x":4099.11,"y":0.86},{"x":4099.49,"y":0.829},{"x":4099.86,"y":0.79},{"x":4100.24,"y":0.744},{"x":4100.57,"y":0.691},{"x":4100.86,"y":0.637},{"x":4101.04,"y":0.6}],
"Hb": [{"x":4507,"y":1.0086},{"x":4507.22,"y":0.9996},{"x":4507.44,"y":0.9952},{"x":4507.66,"y":1.0014},{"x":4507.88,"y":0.9996},{"x":4508.1,"y":1.0068},{"x":4508.32,"y":1.0113},{"x":4508.54,"y":1.0041},{"x":4508.76,"y":0.9996},{"x":4508.99,"y":1.0059},{"x":4509.21,"y":1.0032},{"x":4509.43,"y":0.9988},{"x":4509.65,"y":0.9943},{"x":4509.9,"y":0.9871},{"x":4510.09,"y":0.9782},{"x":4510.27,"y":0.9693},{"x":4510.46,"y":0.9604},{"x":4510.64,"y":0.9568},{"x":4510.79,"y":0.9586},{"x":4510.93,"y":0.9461},{"x":4511.08,"y":0.9479},{"x":4511.26,"y":0.9586},{"x":4511.56,"y":0.9693},{"x":4511.93,"y":0.9836},{"x":4512.29,"y":0.9943},{"x":4512.59,"y":0.9934},{"x":4512.85,"y":0.9961},{"x":4513.1,"y":0.9925},{"x":4513.32,"y":0.9955},{"x":4513.58,"y":0.9934},{"x":4513.76,"y":0.9907},{"x":4513.95,"y":0.9836},{"x":4514.13,"y":0.9764},{"x":4514.32,"y":0.9693},{"x":4514.46,"y":0.9621},{"x":4514.61,"y":0.9514},{"x":4514.76,"y":0.9425},{"x":4514.9,"y":0.9398},{"x":4515.05,"y":0.9416},{"x":4515.2,"y":0.9479},{"x":4515.42,"y":0.9604},{"x":4515.6,"y":0.9693},{"x":4515.79,"y":0.98},{"x":4515.97,"y":0.9871},{"x":4516.23,"y":0.9925},{"x":4516.52,"y":0.9961},{"x":4516.74,"y":0.9988},{"x":4516.96,"y":0.9952},{"x":4517.18,"y":0.9925},{"x":4517.44,"y":0.9907},{"x":4517.66,"y":0.9925},{"x":4517.88,"y":0.988},{"x":4518.1,"y":0.9854},{"x":4518.35,"y":0.9827},{"x":4518.54,"y":0.9862},{"x":4518.76,"y":0.9907},{"x":4518.99,"y":0.9943},{"x":4519.21,"y":1.0005},{"x":4519.43,"y":0.9943},{"x":4519.65,"y":1.0005},{"x":4519.87,"y":0.9934},{"x":4520,"y":0.9961}],
"Hr": [{"x":4507,"y":1.0014},{"x":4507.88,"y":1.0014},{"x":4508.8,"y":1.0068},{"x":4509.35,"y":1.0091},{"x":4509.9,"y":0.9979},{"x":4510.27,"y":0.9836},{"x":4510.64,"y":0.9657},{"x":4510.93,"y":0.9586},{"x":4511.3,"y":0.9657},{"x":4511.74,"y":0.9836},{"x":4512.22,"y":0.9979},{"x":4512.66,"y":1.0009},{"x":4513.03,"y":1.0005},{"x":4513.4,"y":0.9943},{"x":4513.84,"y":0.9782},{"x":4514.32,"y":0.9604},{"x":4514.79,"y":0.9488},{"x":4515.16,"y":0.9532},{"x":4515.6,"y":0.9746},{"x":4516.04,"y":0.9907},{"x":4516.52,"y":0.9988},{"x":4516.89,"y":0.9996},{"x":4517.44,"y":0.9943},{"x":4517.99,"y":0.9871},{"x":4518.25,"y":0.9854},{"x":4518.73,"y":0.9907},{"x":4519.28,"y":0.997},{"x":4520,"y":0.9996}],
"Hc": [{"x":4507,"y":1.0014},{"x":4507.88,"y":1.0023},{"x":4508.8,"y":1.0068},{"x":4509.35,"y":1.0091},{"x":4509.9,"y":1.0014},{"x":4510.46,"y":0.9925},{"x":4511.12,"y":0.9889},{"x":4511.74,"y":0.9961},{"x":4512.29,"y":1.0005},{"x":4512.85,"y":1.0014},{"x":4513.4,"y":0.9988},{"x":4514.13,"y":0.9907},{"x":4514.68,"y":0.9871},{"x":4515.05,"y":0.9836},{"x":4515.42,"y":0.9864},{"x":4515.79,"y":0.9907},{"x":4516.34,"y":0.9988},{"x":4517.07,"y":0.9993},{"x":4517.81,"y":0.997},{"x":4518.91,"y":0.997},{"x":4520,"y":0.9993}]
},
"vconcat": [
 {"hconcat": [
  {"width": 409, "height": 187,
   "layer": [
    {"data": {"name": "Ac"}, "mark": {"type": "line", "color": "#19b3b3", "strokeWidth": 2, "clip": true},
     "encoding": {"x": {"field": "x", "type": "quantitative", "scale": {"domain": [1166, 1187.2], "nice": false, "zero": false}, "axis": {"orient": "bottom", "values": [1167,1168,1169,1171,1172,1173,1174,1176,1177,1178,1179,1181,1182,1183,1184,1186,1187], "tickSize": -4, "labels": false, "title": null}},
                  "y": {"field": "y", "type": "quantitative", "scale": {"domain": [0, 1.3], "nice": false, "zero": false}, "axis": {"orient": "left", "values": [0.1,0.2,0.3,0.4,0.6,0.7,0.8,0.9,1.1,1.2], "tickSize": -4, "labels": false, "title": null}}}},
    {"data": {"name": "Ab"}, "mark": {"type": "line", "color": "black", "strokeWidth": 2, "clip": true},
     "encoding": {"x": {"field": "x", "type": "quantitative", "scale": {"domain": [1166, 1187.2], "nice": false, "zero": false}, "axis": {"orient": "bottom", "values": [1170,1175,1180,1185], "tickSize": -8, "format": "d", "labelPadding": 15, "title": null}},
                  "y": {"field": "y", "type": "quantitative", "scale": {"domain": [0, 1.3], "nice": false, "zero": false}, "axis": {"orient": "left", "values": [0,0.5,1], "tickSize": -8, "format": "~g", "labelPadding": 17, "minExtent": 37, "maxExtent": 37, "title": "Normalized flux", "titlePadding": 0, "titleOpacity": 0}}}},
    {"data": {"name": "Ar"}, "mark": {"type": "line", "color": "#ee1c1c", "strokeWidth": 2, "clip": true},
     "encoding": {"x": {"field": "x", "type": "quantitative", "scale": {"domain": [1166, 1187.2], "nice": false, "zero": false}, "axis": {"orient": "top", "values": [1170,1175,1180,1185], "tickSize": -8, "labels": false, "title": null}},
                  "y": {"field": "y", "type": "quantitative", "scale": {"domain": [0, 1.3], "nice": false, "zero": false}, "axis": {"orient": "right", "values": [0.5,1], "tickSize": -8, "labels": false, "title": null}}}},
    {"data": {"values": [{"x": 1168.52, "y": 0.428, "t": "CIV"}, {"x": 1177.6, "y": 0.127, "t": "CIII"}, {"x": 1183.72, "y": 0.127, "t": "NIII"}]},
     "mark": {"type": "text", "font": "Liberation Serif", "fontWeight": "bold", "fontSize": 14, "color": "black"},
     "encoding": {"x": {"field": "x", "type": "quantitative", "scale": {"domain": [1166, 1187.2], "nice": false, "zero": false}, "axis": {"orient": "top", "values": [1167,1168,1169,1171,1172,1173,1174,1176,1177,1178,1179,1181,1182,1183,1184,1186,1187], "tickSize": -4, "labels": false, "title": null}},
                  "y": {"field": "y", "type": "quantitative", "scale": {"domain": [0, 1.3], "nice": false, "zero": false}, "axis": {"orient": "right", "values": [0.1,0.2,0.3,0.4,0.6,0.7,0.8,0.9,1.1,1.2], "tickSize": -4, "labels": false, "title": null}},
                  "text": {"field": "t"}}}
   ],
   "resolve": {"axis": {"x": "independent", "y": "independent"}}},
  {"width": 192, "height": 187,
   "layer": [
    {"data": {"name": "Bc"}, "mark": {"type": "line", "color": "#19b3b3", "strokeWidth": 2, "clip": true},
     "encoding": {"x": {"field": "x", "type": "quantitative", "scale": {"domain": [1335.7, 1346.2], "nice": false, "zero": false}, "axis": {"orient": "bottom", "values": [1336,1337,1338,1339,1341,1342,1343,1344,1346], "tickSize": -4, "labels": false, "title": null}},
                  "y": {"field": "y", "type": "quantitative", "scale": {"domain": [0.5, 1.18], "nice": false, "zero": false}, "axis": {"orient": "left", "values": [0.55,0.65,0.7,0.75,0.85,0.9,0.95,1.05,1.1,1.15], "tickSize": -4, "labels": false, "title": null}}}},
    {"data": {"name": "Bb"}, "mark": {"type": "line", "color": "black", "strokeWidth": 2, "clip": true},
     "encoding": {"x": {"field": "x", "type": "quantitative", "scale": {"domain": [1335.7, 1346.2], "nice": false, "zero": false}, "axis": {"orient": "bottom", "values": [1340,1345], "tickSize": -8, "format": "d", "labelPadding": 15, "title": null}},
                  "y": {"field": "y", "type": "quantitative", "scale": {"domain": [0.5, 1.18], "nice": false, "zero": false}, "axis": {"orient": "left", "values": [0.6,0.8,1], "tickSize": -8, "format": "~g", "labelPadding": 17, "title": null}}}},
    {"data": {"name": "Br"}, "mark": {"type": "line", "color": "#ee1c1c", "strokeWidth": 2, "clip": true},
     "encoding": {"x": {"field": "x", "type": "quantitative", "scale": {"domain": [1335.7, 1346.2], "nice": false, "zero": false}, "axis": {"orient": "top", "values": [1340,1345], "tickSize": -8, "labels": false, "title": null}},
                  "y": {"field": "y", "type": "quantitative", "scale": {"domain": [0.5, 1.18], "nice": false, "zero": false}, "axis": {"orient": "right", "values": [0.6,0.8,1], "tickSize": -8, "labels": false, "title": null}}}},
    {"data": {"values": [{"x": 1341.5, "y": 0.588, "t": "OIV"}]},
     "mark": {"type": "text", "font": "Liberation Serif", "fontWeight": "bold", "fontSize": 14, "color": "black"},
     "encoding": {"x": {"field": "x", "type": "quantitative", "scale": {"domain": [1335.7, 1346.2], "nice": false, "zero": false}, "axis": {"orient": "top", "values": [1336,1337,1338,1339,1341,1342,1343,1344,1346], "tickSize": -4, "labels": false, "title": null}},
                  "y": {"field": "y", "type": "quantitative", "scale": {"domain": [0.5, 1.18], "nice": false, "zero": false}, "axis": {"orient": "right", "values": [0.55,0.65,0.7,0.75,0.85,0.9,0.95,1.05,1.1,1.15], "tickSize": -4, "labels": false, "title": null}},
                  "text": {"field": "t"}}}
   ],
   "resolve": {"axis": {"x": "independent", "y": "independent"}}}
 ], "spacing": 30},
 {"vconcat": [
 {"hconcat": [
  {"width": 180, "height": 187,
   "layer": [
    {"data": {"name": "Cc"}, "mark": {"type": "line", "color": "#19b3b3", "strokeWidth": 2, "clip": true},
     "encoding": {"x": {"field": "x", "type": "quantitative", "scale": {"domain": [3258, 3270], "nice": false, "zero": false}, "axis": {"orient": "bottom", "values": [3259,3261,3262,3263,3264,3266,3267,3268,3269], "tickSize": -4, "labels": false, "title": null}},
                  "y": {"field": "y", "type": "quantitative", "scale": {"domain": [0.9, 1.03], "nice": false, "zero": false}, "axis": {"orient": "left", "values": [0.91,0.92,0.93,0.94,0.96,0.97,0.98,0.99,1.01,1.02], "tickSize": -4, "labels": false, "title": null}}}},
    {"data": {"name": "Cb"}, "mark": {"type": "line", "color": "black", "strokeWidth": 2, "clip": true},
     "encoding": {"x": {"field": "x", "type": "quantitative", "scale": {"domain": [3258, 3270], "nice": false, "zero": false}, "axis": {"orient": "bottom", "values": [3260,3265,3270], "tickSize": -8, "format": "d", "labelPadding": 15, "title": null}},
                  "y": {"field": "y", "type": "quantitative", "scale": {"domain": [0.9, 1.03], "nice": false, "zero": false}, "axis": {"orient": "left", "values": [0.9,0.95,1], "tickSize": -8, "format": "~g", "labelPadding": 17, "minExtent": 37, "maxExtent": 37, "title": "Normalized flux", "titlePadding": 0}}}},
    {"data": {"name": "Cr"}, "mark": {"type": "line", "color": "#ee1c1c", "strokeWidth": 2, "clip": true},
     "encoding": {"x": {"field": "x", "type": "quantitative", "scale": {"domain": [3258, 3270], "nice": false, "zero": false}, "axis": {"orient": "top", "values": [3260,3265], "tickSize": -8, "labels": false, "title": null}},
                  "y": {"field": "y", "type": "quantitative", "scale": {"domain": [0.9, 1.03], "nice": false, "zero": false}, "axis": {"orient": "right", "values": [0.95,1], "tickSize": -8, "labels": false, "title": null}}}},
    {"data": {"values": [{"x": 3262.73, "y": 0.9314, "t": "OIII"}]},
     "mark": {"type": "text", "font": "Liberation Serif", "fontWeight": "bold", "fontSize": 14, "color": "black"},
     "encoding": {"x": {"field": "x", "type": "quantitative", "scale": {"domain": [3258, 3270], "nice": false, "zero": false}, "axis": {"orient": "top", "values": [3259,3261,3262,3263,3264,3266,3267,3268,3269], "tickSize": -4, "labels": false, "title": null}},
                  "y": {"field": "y", "type": "quantitative", "scale": {"domain": [0.9, 1.03], "nice": false, "zero": false}, "axis": {"orient": "right", "values": [0.91,0.92,0.93,0.94,0.96,0.97,0.98,0.99,1.01,1.02], "tickSize": -4, "labels": false, "title": null}},
                  "text": {"field": "t"}}}
   ],
   "resolve": {"axis": {"x": "independent", "y": "independent"}}},
  {"width": 419, "height": 187,
   "layer": [
    {"data": {"name": "Dc"}, "mark": {"type": "line", "color": "#19b3b3", "strokeWidth": 2, "clip": true},
     "encoding": {"x": {"field": "x", "type": "quantitative", "scale": {"domain": [3308, 3380], "nice": false, "zero": false}, "axis": {"orient": "bottom", "values": [3310,3315,3325,3330,3335,3345,3350,3355,3365,3370,3375], "tickSize": -4, "labels": false, "title": null}},
                  "y": {"field": "y", "type": "quantitative", "scale": {"domain": [0.9, 1.03], "nice": false, "zero": false}, "axis": {"orient": "left", "values": [0.91,0.92,0.93,0.94,0.96,0.97,0.98,0.99,1.01,1.02], "tickSize": -4, "labels": false, "title": null}}}},
    {"data": {"name": "Db"}, "mark": {"type": "line", "color": "black", "strokeWidth": 2, "clip": true},
     "encoding": {"x": {"field": "x", "type": "quantitative", "scale": {"domain": [3308, 3380], "nice": false, "zero": false}, "axis": {"orient": "bottom", "values": [3320,3340,3360,3380], "tickSize": -8, "format": "d", "labelPadding": 15, "title": null}},
                  "y": {"field": "y", "type": "quantitative", "scale": {"domain": [0.9, 1.03], "nice": false, "zero": false}, "axis": {"orient": "left", "values": [0.9,0.95,1], "tickSize": -8, "format": "~g", "labelPadding": 17, "title": null}}}},
    {"data": {"name": "Dr"}, "mark": {"type": "line", "color": "#ee1c1c", "strokeWidth": 2, "clip": true},
     "encoding": {"x": {"field": "x", "type": "quantitative", "scale": {"domain": [3308, 3380], "nice": false, "zero": false}, "axis": {"orient": "top", "values": [3320,3340,3360], "tickSize": -8, "labels": false, "title": null}},
                  "y": {"field": "y", "type": "quantitative", "scale": {"domain": [0.9, 1.03], "nice": false, "zero": false}, "axis": {"orient": "right", "values": [0.95,1], "tickSize": -8, "labels": false, "title": null}}}},
    {"data": {"values": [{"x": 3316, "y": 0.9228, "t": "OIII"}, {"x": 3332, "y": 0.9228, "t": "NIII"}, {"x": 3344, "y": 0.9228, "t": "OIII"}, {"x": 3358.06, "y": 0.9228, "t": "NIII"}, {"x": 3369, "y": 0.9228, "t": "NIII"}, {"x": 3376.2, "y": 0.9228, "t": "NIII"}]},
     "mark": {"type": "text", "font": "Liberation Serif", "fontWeight": "bold", "fontSize": 14, "color": "black"},
     "encoding": {"x": {"field": "x", "type": "quantitative", "scale": {"domain": [3308, 3380], "nice": false, "zero": false}, "axis": {"orient": "top", "values": [3310,3315,3325,3330,3335,3345,3350,3355,3365,3370,3375], "tickSize": -4, "labels": false, "title": null}},
                  "y": {"field": "y", "type": "quantitative", "scale": {"domain": [0.9, 1.03], "nice": false, "zero": false}, "axis": {"orient": "right", "values": [0.91,0.92,0.93,0.94,0.96,0.97,0.98,0.99,1.01,1.02], "tickSize": -4, "labels": false, "title": null}},
                  "text": {"field": "t"}}}
   ],
   "resolve": {"axis": {"x": "independent", "y": "independent"}}}
 ], "spacing": 8},
 {"hconcat": [
  {"hconcat": [
   {"width": 119, "height": 186,
    "layer": [
     {"data": {"name": "Ec"}, "mark": {"type": "line", "color": "#19b3b3", "strokeWidth": 2, "clip": true},
      "encoding": {"x": {"field": "x", "type": "quantitative", "scale": {"domain": [3956, 3968], "nice": false, "zero": false}, "axis": {"orient": "bottom", "values": [3958,3962,3964,3966], "tickSize": -4, "labels": false, "title": null}},
                   "y": {"field": "y", "type": "quantitative", "scale": {"domain": [0.93, 1.02], "nice": false, "zero": false}, "axis": {"orient": "left", "values": [0.935,0.945,0.95,0.955,0.965,0.97,0.975,0.985,0.99,0.995,1.005,1.01,1.015], "tickSize": -4, "labels": false, "title": null}}}},
     {"data": {"name": "Eb"}, "mark": {"type": "line", "color": "black", "strokeWidth": 2, "clip": true},
      "encoding": {"x": {"field": "x", "type": "quantitative", "scale": {"domain": [3956, 3968], "nice": false, "zero": false}, "axis": {"orient": "bottom", "values": [3960], "tickSize": -8, "format": "d", "labelPadding": 15, "title": null}},
                   "y": {"field": "y", "type": "quantitative", "scale": {"domain": [0.93, 1.02], "nice": false, "zero": false}, "axis": {"orient": "left", "values": [0.94,0.96,0.98,1,1.02], "tickSize": -8, "format": "~g", "labelPadding": 17, "minExtent": 37, "maxExtent": 37, "title": "Normalized flux", "titlePadding": 0, "titleOpacity": 0}}}},
     {"data": {"name": "Er"}, "mark": {"type": "line", "color": "#ee1c1c", "strokeWidth": 2, "clip": true},
      "encoding": {"x": {"field": "x", "type": "quantitative", "scale": {"domain": [3956, 3968], "nice": false, "zero": false}, "axis": {"orient": "top", "values": [3960], "tickSize": -8, "labels": false, "title": null}},
                   "y": {"field": "y", "type": "quantitative", "scale": {"domain": [0.93, 1.02], "nice": false, "zero": false}, "axis": {"orient": "right", "values": [0.94,0.96,0.98,1], "tickSize": -8, "labels": false, "title": null}}}},
     {"data": {"values": [{"x": 3961.18, "y": 0.9419, "t": "OIII"}]},
      "mark": {"type": "text", "font": "Liberation Serif", "fontWeight": "bold", "fontSize": 14, "color": "black"},
      "encoding": {"x": {"field": "x", "type": "quantitative", "scale": {"domain": [3956, 3968], "nice": false, "zero": false}, "axis": {"orient": "top", "values": [3958,3962,3964,3966], "tickSize": -4, "labels": false, "title": null}},
                   "y": {"field": "y", "type": "quantitative", "scale": {"domain": [0.93, 1.02], "nice": false, "zero": false}, "axis": {"orient": "right", "values": [0.935,0.945,0.95,0.955,0.965,0.97,0.975,0.985,0.99,0.995,1.005,1.01,1.015], "tickSize": -4, "labels": false, "title": null}},
                   "text": {"field": "t"}}}
    ],
    "resolve": {"axis": {"x": "independent", "y": "independent"}}},
   {"width": 119, "height": 186,
    "layer": [
     {"data": {"name": "Fc"}, "mark": {"type": "line", "color": "#19b3b3", "strokeWidth": 2, "clip": true},
      "encoding": {"x": {"field": "x", "type": "quantitative", "scale": {"domain": [4060, 4080], "nice": false, "zero": false}, "axis": {"orient": "bottom", "values": [4065,4070,4075], "tickSize": -4, "labels": false, "title": null}},
                   "y": {"field": "y", "type": "quantitative", "scale": {"domain": [0.93, 1.03], "nice": false, "zero": false}, "axis": {"orient": "left", "values": [0.935,0.945,0.95,0.955,0.965,0.97,0.975,0.985,0.99,0.995,1.005,1.01,1.015,1.025], "tickSize": -4, "labels": false, "title": null}}}},
     {"data": {"name": "Fb"}, "mark": {"type": "line", "color": "black", "strokeWidth": 2, "clip": true},
      "encoding": {"x": {"field": "x", "type": "quantitative", "scale": {"domain": [4060, 4080], "nice": false, "zero": false}, "axis": {"orient": "bottom", "values": [4060,4080], "tickSize": -8, "format": "d", "labelPadding": 15, "title": null}},
                   "y": {"field": "y", "type": "quantitative", "scale": {"domain": [0.93, 1.03], "nice": false, "zero": false}, "axis": {"orient": "left", "values": [0.94,0.96,0.98,1,1.02], "tickSize": -8, "format": "~g", "labelPadding": 17, "title": null}}}},
     {"data": {"name": "Fr"}, "mark": {"type": "line", "color": "#ee1c1c", "strokeWidth": 2, "clip": true},
      "encoding": {"x": {"field": "x", "type": "quantitative", "scale": {"domain": [4060, 4080], "nice": false, "zero": false}, "axis": {"orient": "top", "values": [4065,4070,4075], "tickSize": -6, "labels": false, "title": null}},
                   "y": {"field": "y", "type": "quantitative", "scale": {"domain": [0.93, 1.03], "nice": false, "zero": false}, "axis": {"orient": "right", "values": [0.94,0.96,0.98,1,1.02], "tickSize": -8, "labels": false, "title": null}}}},
     {"data": {"values": [{"x": 4066.05, "y": 0.9527, "t": "CIII"}, {"x": 4073.56, "y": 0.9527, "t": "OII"}]},
      "mark": {"type": "text", "font": "Liberation Serif", "fontWeight": "bold", "fontSize": 14, "color": "black"},
      "encoding": {"x": {"field": "x", "type": "quantitative", "scale": {"domain": [4060, 4080], "nice": false, "zero": false}, "axis": {"orient": "top", "values": [4065], "tickSize": 0, "labels": false, "title": null}},
                   "y": {"field": "y", "type": "quantitative", "scale": {"domain": [0.93, 1.03], "nice": false, "zero": false}, "axis": {"orient": "right", "values": [0.935,0.945,0.95,0.955,0.965,0.97,0.975,0.985,0.99,0.995,1.005,1.01,1.015,1.025], "tickSize": -4, "labels": false, "title": null}},
                   "text": {"field": "t"}}}
    ],
    "resolve": {"axis": {"x": "independent", "y": "independent"}}}
  ], "spacing": 25},
  {"hconcat": [
   {"width": 119, "height": 186,
    "layer": [
     {"data": {"name": "Gc"}, "mark": {"type": "line", "color": "#19b3b3", "strokeWidth": 2, "clip": true},
      "encoding": {"x": {"field": "x", "type": "quantitative", "scale": {"domain": [4093, 4102], "nice": false, "zero": false}, "axis": {"orient": "bottom", "values": [4094,4096,4097,4098,4099,4101], "tickSize": -4, "labels": false, "title": null}},
                   "y": {"field": "y", "type": "quantitative", "scale": {"domain": [0.63, 1.06], "nice": false, "zero": false}, "axis": {"orient": "left", "values": [0.64,0.66,0.68,0.72,0.74,0.76,0.78,0.82,0.84,0.86,0.88,0.92,0.94,0.96,0.98,1.02,1.04], "tickSize": -4, "labels": false, "title": null}}}},
     {"data": {"name": "Gb"}, "mark": {"type": "line", "color": "black", "strokeWidth": 2, "clip": true},
      "encoding": {"x": {"field": "x", "type": "quantitative", "scale": {"domain": [4093, 4102], "nice": false, "zero": false}, "axis": {"orient": "bottom", "values": [4095,4100], "tickSize": -8, "format": "d", "labelPadding": 15, "title": null}},
                   "y": {"field": "y", "type": "quantitative", "scale": {"domain": [0.63, 1.06], "nice": false, "zero": false}, "axis": {"orient": "left", "values": [0.7,0.8,0.9,1], "tickSize": -8, "format": "~g", "labelPadding": 17, "title": null}}}},
     {"data": {"name": "Gr"}, "mark": {"type": "line", "color": "#ee1c1c", "strokeWidth": 2, "clip": true},
      "encoding": {"x": {"field": "x", "type": "quantitative", "scale": {"domain": [4093, 4102], "nice": false, "zero": false}, "axis": {"orient": "top", "values": [4095,4100], "tickSize": -8, "labels": false, "title": null}},
                   "y": {"field": "y", "type": "quantitative", "scale": {"domain": [0.63, 1.06], "nice": false, "zero": false}, "axis": {"orient": "right", "values": [0.7,0.8,0.9,1], "tickSize": -8, "labels": false, "title": null}}}},
     {"data": {"values": [{"x": 4095.91, "y": 0.71, "t": "NIII"}]},
      "mark": {"type": "text", "font": "Liberation Serif", "fontWeight": "bold", "fontSize": 14, "color": "black"},
      "encoding": {"x": {"field": "x", "type": "quantitative", "scale": {"domain": [4093, 4102], "nice": false, "zero": false}, "axis": {"orient": "top", "values": [4094,4096,4097,4098,4099,4101], "tickSize": -4, "labels": false, "title": null}},
                   "y": {"field": "y", "type": "quantitative", "scale": {"domain": [0.63, 1.06], "nice": false, "zero": false}, "axis": {"orient": "right", "values": [0.64,0.66,0.68,0.72,0.74,0.76,0.78,0.82,0.84,0.86,0.88,0.92,0.94,0.96,0.98,1.02,1.04], "tickSize": -4, "labels": false, "title": null}},
                   "text": {"field": "t"}}}
    ],
    "resolve": {"axis": {"x": "independent", "y": "independent"}}},
   {"width": 119, "height": 186,
    "layer": [
     {"data": {"name": "Hc"}, "mark": {"type": "line", "color": "#19b3b3", "strokeWidth": 2, "clip": true},
      "encoding": {"x": {"field": "x", "type": "quantitative", "scale": {"domain": [4507, 4520], "nice": false, "zero": false}, "axis": {"orient": "bottom", "values": [4508,4512,4514,4516,4518], "tickSize": -4, "labels": false, "title": null}},
                   "y": {"field": "y", "type": "quantitative", "scale": {"domain": [0.93, 1.03], "nice": false, "zero": false}, "axis": {"orient": "left", "values": [0.935,0.945,0.95,0.955,0.965,0.97,0.975,0.985,0.99,0.995,1.005,1.01,1.015,1.025], "tickSize": -4, "labels": false, "title": null}}}},
     {"data": {"name": "Hb"}, "mark": {"type": "line", "color": "black", "strokeWidth": 2, "clip": true},
      "encoding": {"x": {"field": "x", "type": "quantitative", "scale": {"domain": [4507, 4520], "nice": false, "zero": false}, "axis": {"orient": "bottom", "values": [4510,4520], "tickSize": -8, "format": "d", "labelPadding": 15, "title": null}},
                   "y": {"field": "y", "type": "quantitative", "scale": {"domain": [0.93, 1.03], "nice": false, "zero": false}, "axis": {"orient": "left", "values": [0.94,0.96,0.98,1,1.02], "tickSize": -8, "format": "~g", "labelPadding": 17, "title": null}}}},
     {"data": {"name": "Hr"}, "mark": {"type": "line", "color": "#ee1c1c", "strokeWidth": 2, "clip": true},
      "encoding": {"x": {"field": "x", "type": "quantitative", "scale": {"domain": [4507, 4520], "nice": false, "zero": false}, "axis": {"orient": "top", "values": [4510], "tickSize": -8, "labels": false, "title": null}},
                   "y": {"field": "y", "type": "quantitative", "scale": {"domain": [0.93, 1.03], "nice": false, "zero": false}, "axis": {"orient": "right", "values": [0.94,0.96,0.98,1,1.02], "tickSize": -8, "labels": false, "title": null}}}},
     {"data": {"values": [{"x": 4513.32, "y": 1.0175, "t": "NIII"}]},
      "mark": {"type": "text", "font": "Liberation Serif", "fontWeight": "bold", "fontSize": 14, "color": "black"},
      "encoding": {"x": {"field": "x", "type": "quantitative", "scale": {"domain": [4507, 4520], "nice": false, "zero": false}, "axis": {"orient": "top", "values": [4508,4512,4514,4516,4518], "tickSize": -4, "labels": false, "title": null}},
                   "y": {"field": "y", "type": "quantitative", "scale": {"domain": [0.93, 1.03], "nice": false, "zero": false}, "axis": {"orient": "right", "values": [0.935,0.945,0.95,0.955,0.965,0.97,0.975,0.985,0.99,0.995,1.005,1.01,1.015,1.025], "tickSize": -4, "labels": false, "title": null}},
                   "text": {"field": "t"}}}
    ],
    "resolve": {"axis": {"x": "independent", "y": "independent"}}}
  ], "spacing": 28}
 ], "spacing": 14}
 ], "spacing": 24}
],
"spacing": 26
}
